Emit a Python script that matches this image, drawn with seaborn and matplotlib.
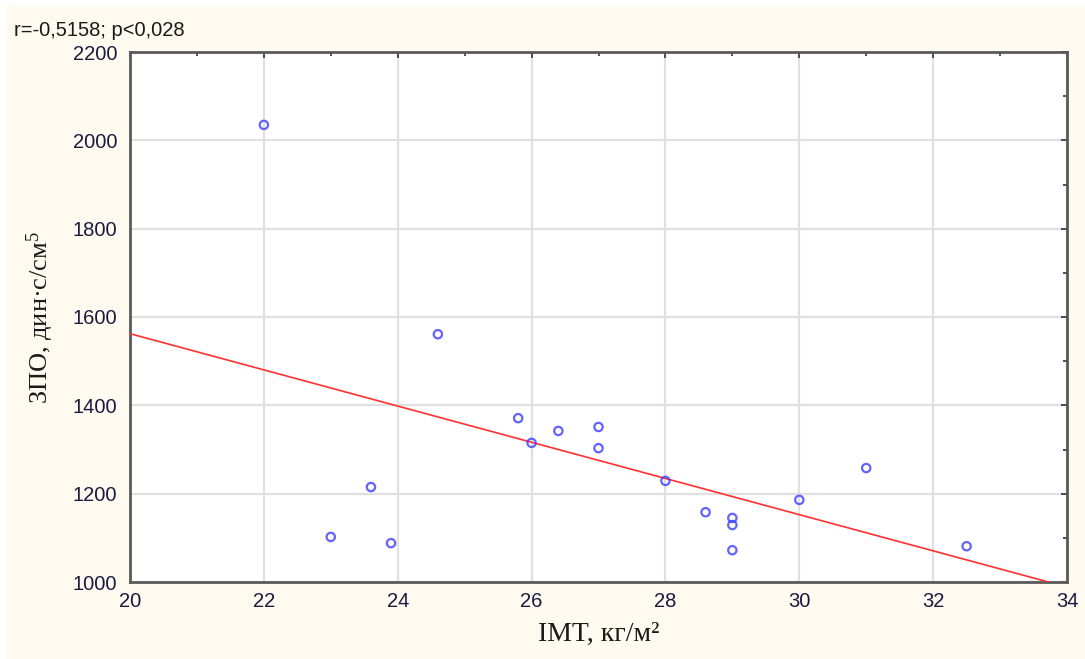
import matplotlib
matplotlib.use("Agg")
import matplotlib.pyplot as plt
import seaborn as sns
import pandas as pd
import numpy as np
from matplotlib.patches import Rectangle
from matplotlib.ticker import MultipleLocator

# Data
imt = [22.0, 23.0, 23.6, 23.9, 24.6, 25.8, 26.0, 26.4, 27.0, 27.0,
       28.0, 28.6, 29.0, 29.0, 29.0, 30.0, 31.0, 32.5]
zpo = [2035, 1102, 1215, 1088, 1561, 1371, 1315, 1342, 1351, 1303,
       1229, 1158, 1145, 1129, 1072, 1186, 1258, 1081]
x_ticks = [20, 22, 24, 26, 28, 30, 32, 34]
y_ticks = [1000, 1200, 1400, 1600, 1800, 2000, 2200]
title_text = "r=-0,5158; p<0,028"
x_label = "IMT, кг/м²"
y_label = "ЗПО, дин·с/см$^5$"

df = pd.DataFrame({"IMT": imt, "ZPO": zpo})

sns.set_style("white")
plt.rcParams["font.family"] = ["Liberation Sans", "DejaVu Sans"]
plt.rcParams["mathtext.fontset"] = "custom"
plt.rcParams["mathtext.rm"] = "Liberation Serif"
plt.rcParams["mathtext.it"] = "Liberation Serif"
plt.rcParams["mathtext.default"] = "regular"

fig = plt.figure(figsize=(10.85, 6.59), dpi=100, facecolor="white")
fig.patches.append(Rectangle((6 / 1085, 0), 1, 1 - 5 / 659, transform=fig.transFigure,
                             facecolor="#fffaf0", edgecolor="none", zorder=-10))
ax = fig.add_axes([130 / 1085, 1 - 582 / 659, (1067 - 130) / 1085, (582 - 52) / 659])
ax.set_facecolor("white")
ax.set_xlim(20, 34)
ax.set_ylim(1000, 2200)

sns.regplot(data=df, x="IMT", y="ZPO", ax=ax, ci=None, truncate=False,
            scatter_kws=dict(s=36, facecolors="none", edgecolors="#3c3cff", linewidths=1.6, zorder=4),
            line_kws=dict(color="#ff3030", linewidth=1.2, zorder=3))
ax.set_xlim(20, 34)
ax.set_ylim(1000, 2200)

ax.set_xticks(x_ticks)
ax.set_yticks(y_ticks)
ax.xaxis.set_minor_locator(MultipleLocator(1))
ax.yaxis.set_minor_locator(MultipleLocator(100))
ax.grid(True, which="major", color="#e0e0e0", linewidth=1.6, zorder=0)
ax.set_axisbelow(True)
for s in ax.spines.values():
    s.set_color("#5a5a5a")
    s.set_linewidth(2)
ax.tick_params(which="both", direction="in", top=True, right=True, color="#333333",
               labelsize=14.5, labelcolor="#1a1a40")
ax.tick_params(which="major", length=4, width=1.2, pad=7)
ax.tick_params(which="minor", length=3, width=1.2)
ax.tick_params(axis="y", pad=9)

ax.set_xlabel(x_label, fontsize=20, family=["Liberation Serif", "DejaVu Serif"], color="#1a1a1a", labelpad=8)
ax.set_ylabel(y_label, fontsize=19, family=["Liberation Serif", "DejaVu Serif"], color="#1a1a1a", labelpad=12)

fig.text(14 / 1085, 1 - 30 / 659, title_text, fontsize=14.5, color="#1a1a1a", va="center", ha="left")

fig.savefig("out.png", dpi=100, facecolor=fig.get_facecolor())
